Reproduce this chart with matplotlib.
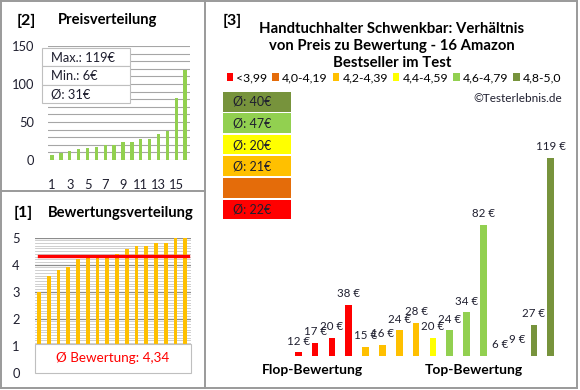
import matplotlib
matplotlib.use("Agg")
import matplotlib.pyplot as plt
from matplotlib.patches import Rectangle, Patch
from matplotlib.lines import Line2D
import numpy as np

plt.rcParams['font.family'] = ['Lato', 'DejaVu Sans']

# products ordered by rating, as shown in panel [3]
ratings = [3.0, 3.6, 3.8, 3.9, 4.2, 4.3, 4.3, 4.3, 4.4, 4.6, 4.7, 4.7, 4.8, 4.8, 5.0, 5.0]
prices = [12, 17, 20, 38, 15, 16, 24, 28, 20, 24, 34, 82, 6, 9, 27, 119]

bin_labels = ["<3,99", "4,0-4,19", "4,2-4,39", "4,4-4,59", "4,6-4,79", "4,8-5,0"]
bin_edges = [4.0, 4.2, 4.4, 4.6, 4.8]
bin_colors = ["#FF0000", "#E46C0A", "#FFC000", "#FFFF00", "#92D050", "#77933C"]

title3 = "Handtuchhalter Schwenkbar: Verhältnis\nvon Preis zu Bewertung - 16 Amazon\nBestseller im Test"

W, H = 580, 390
TXT = "#1f1f2f"
GRID = "#a6a6a6"


def px(x0, y0, x1, y1):
    """pixel box (top-left origin) -> figure fraction rect"""
    return [x0 / W, 1 - y1 / H, (x1 - x0) / W, (y1 - y0) / H]


def ftext(x, y, s, **kw):
    fig.text(x / W, 1 - y / H, s, **kw)


fig = plt.figure(figsize=(W / 100, H / 100), dpi=100)

bins = np.digitize(ratings, bin_edges)
pos = np.arange(1, len(prices) + 1)

# ---- [2] Preisverteilung
ax2 = fig.add_axes(px(48, 46, 190, 160))
ax2.bar(pos, sorted(prices), width=0.38, color="#92D050", zorder=3)
ax2.set_ylim(0, 150)
ax2.set_xlim(0.55, 16.55)
ax2.set_yticks([0, 50, 100, 150])
ax2.set_yticks(np.arange(0, 151, 10), minor=True)
ax2.set_xticks(pos[::2])
ax2.grid(axis='y', which='both', color=GRID, lw=0.8, zorder=0)
ax2.tick_params(which='both', length=0, labelsize=9.3, colors=TXT)
ax2.tick_params(axis='y', pad=10)
ax2.tick_params(axis='x', pad=14)
for s in ax2.spines.values():
    s.set_visible(False)

ftext(17, 21, "[2]", fontsize=11.5, fontweight='bold', va='center')
ftext(58, 20, "Preisverteilung", fontsize=10.6, fontweight='bold', va='center')

stats = [f"Max.: {max(prices)}€", f"Min.: {min(prices)}€", f"Ø: {round(np.mean(prices))}€"]
for k, s in enumerate(stats):
    y0 = 48 + k * 18.3
    fig.patches.append(Rectangle((42 / W, 1 - (y0 + 18.3) / H), 88 / W, 18.3 / H,
                                 transform=fig.transFigure, facecolor='white',
                                 edgecolor='#bfbfbf', lw=0.8, zorder=5))
    ftext(51, y0 + 9.5, s, fontsize=9.3, color=TXT, va='center', zorder=6)

# ---- [1] Bewertungsverteilung
ax1 = fig.add_axes(px(35, 237.7, 191, 372.7))
ax1.bar(pos, sorted(ratings), width=0.38, color="#FFC000", zorder=3)
ax1.set_ylim(0, 5)
ax1.set_xlim(0.6, 16.6)
ax1.set_yticks(range(0, 6))
ax1.set_yticks(np.arange(0, 5.01, 0.1), minor=True)
ax1.set_xticks([])
ax1.grid(axis='y', which='minor', color='#c8c8c8', lw=0.6, zorder=0)
ax1.grid(axis='y', which='major', color='#8c8c8c', lw=0.9, zorder=1)
ax1.tick_params(which='both', length=0, labelsize=9.3, colors=TXT, pad=11)
for s in ax1.spines.values():
    s.set_visible(False)
avg_rating = np.mean(ratings)
ax1.axhline(avg_rating, xmin=0.026, xmax=0.98, color='#FF0000', lw=2.4, zorder=4)

ftext(14, 213, "[1]", fontsize=11.5, fontweight='bold', va='center')
ftext(48, 213, "Bewertungsverteilung", fontsize=10.6, fontweight='bold', va='center')

fig.patches.append(Rectangle((35 / W, 1 - 372.7 / H), 156 / W, 28.7 / H,
                             transform=fig.transFigure, facecolor='white',
                             edgecolor='#bfbfbf', lw=0.8, zorder=5))
ftext(113, 358, "Ø Bewertung: " + f"{avg_rating:.2f}".replace(".", ","),
      fontsize=9.7, color='#FF0000', ha='center', va='center', zorder=6)

# ---- [3] Preis zu Bewertung
ymin = 10
ax3 = fig.add_axes(px(288.2, 137.9, 560.8, 355.7))
bar_colors = [bin_colors[b] for b in bins]
ax3.bar(pos, prices, width=0.4, color=bar_colors, bottom=0)
ax3.set_ylim(ymin, 130)
ax3.set_xlim(0.4, 16.6)
ax3.axis('off')
for x, v in zip(pos, prices):
    lab_y = v if v >= ymin else v + (ymin - min(prices))
    ax3.annotate(f"{v} €", (x, lab_y), xytext=(0, 4), textcoords='offset points',
                 ha='center', va='bottom', fontsize=8.3, color=TXT, annotation_clip=False)

ftext(223, 21, "[3]", fontsize=11.5, fontweight='bold', va='center')
ftext(392, 46, title3, fontsize=10.7, fontweight='bold', ha='center', va='center',
      linespacing=1.3)

handles = [Patch(facecolor=c) for c in bin_colors]
fig.legend(handles, bin_labels, loc='center', bbox_to_anchor=(394 / W, 1 - 78 / H),
           ncol=6, frameon=False, fontsize=8.8, handlelength=0.55, handleheight=0.6,
           handletextpad=0.25, columnspacing=0.4, borderpad=0)

ftext(562, 98, "©Testerlebnis.de", fontsize=8.5, ha='right', va='center', color=TXT)

# average price per rating class, best class on top
for row, b in enumerate(range(len(bin_colors) - 1, -1, -1)):
    y0 = 92 + row * 21.5
    fig.patches.append(Rectangle((223 / W, 1 - (y0 + 19.5) / H), 68 / W, 19.5 / H,
                                 transform=fig.transFigure, facecolor=bin_colors[b],
                                 edgecolor='none'))
    vals = [p for p, bb in zip(prices, bins) if bb == b]
    if vals:
        ftext(233, y0 + 10, f"Ø: {round(np.mean(vals))}€", fontsize=9, color=TXT, va='center')

ftext(312, 370, "Flop-Bewertung", fontsize=10, fontweight='bold', ha='center', va='center')
ftext(474, 370, "Top-Bewertung", fontsize=10, fontweight='bold', ha='center', va='center')

# panel frames
for (x0, y0, x1, y1) in [(1, 1, 577, 1), (1, 388, 577, 388), (1, 1, 1, 388),
                         (577, 1, 577, 388), (205, 1, 205, 388), (1, 191, 205, 191)]:
    fig.lines.append(Line2D([x0 / W, x1 / W], [1 - y0 / H, 1 - y1 / H],
                            transform=fig.transFigure, color='#9a9a9a', lw=1.4))

fig.savefig("out.png", dpi=100)
